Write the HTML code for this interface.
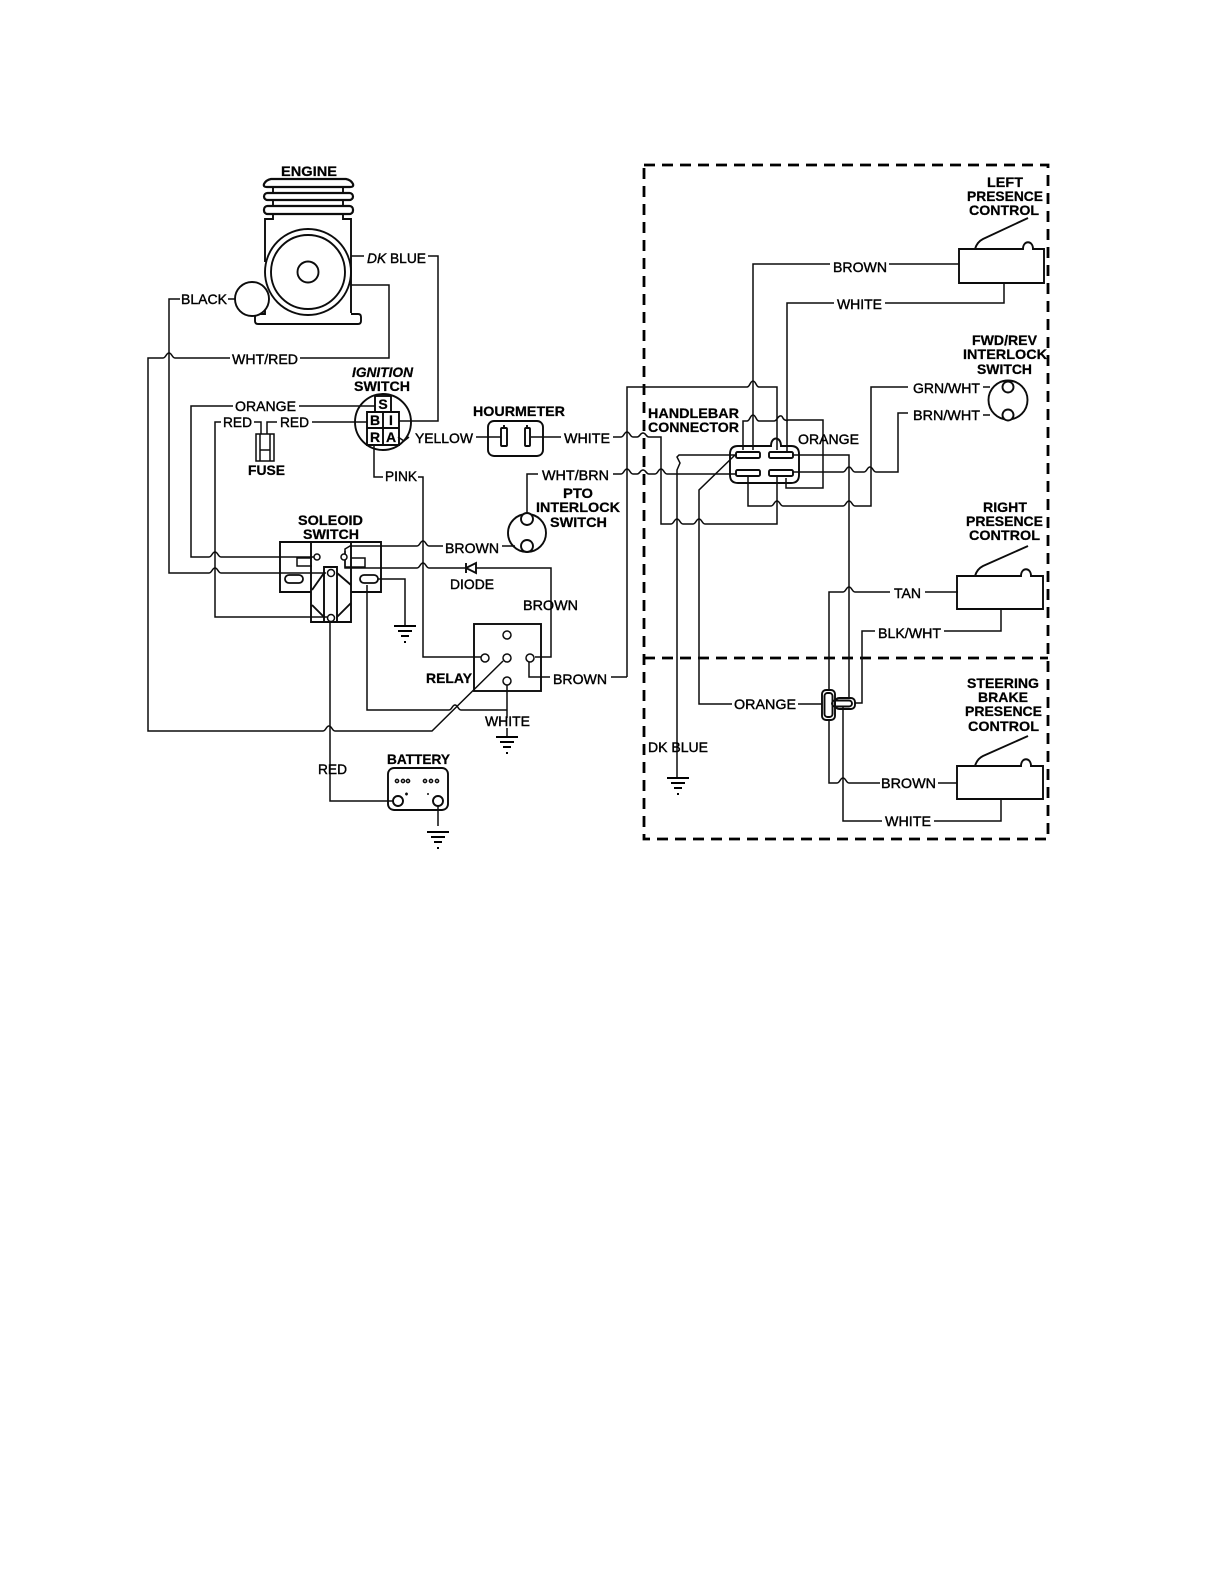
<!DOCTYPE html>
<html>
<head>
<meta charset="utf-8">
<style>
html,body{margin:0;padding:0;background:#fff;width:1224px;height:1584px;overflow:hidden}
svg{display:block}
.w,.s{fill:none;stroke:#0c0c0c;stroke-width:1.5;stroke-linejoin:miter}
.s{stroke-width:1.9}
.d{fill:none;stroke:#000;stroke-width:2.8;stroke-dasharray:11 7}
text{font-family:"Liberation Sans",sans-serif;font-size:14px;fill:#000;dominant-baseline:central}
.b{font-weight:bold;stroke:#000;stroke-width:.25}
.r{stroke:#000;stroke-width:.4}
</style>
</head>
<body>
<svg width="1224" height="1584" viewBox="0 0 1224 1584" xmlns="http://www.w3.org/2000/svg">
<rect width="1224" height="1584" fill="#fff"/>
<defs>
<path id="g" d="M-11 0h22M-7 5h14M-4 10h8M-1 16h2" fill="none" stroke="#000" stroke-width="2"/>
</defs>

<!-- dashed box -->
<path class="d" d="M644 165H1048V839H644ZM644 658H1048"/>

<!-- engine -->
<g class="s">
<path d="M267 187H350Q354 187 353 184Q351 180 346 179H271Q266 180 264 184Q263 187 267 187Z" stroke-width="2.2"/>
<rect x="264" y="193" width="89" height="7" rx="3.5" stroke-width="2.2"/>
<rect x="264" y="206" width="89" height="8" rx="3.5" stroke-width="2.2"/>
<path d="M273 187v6M343 187v6M273 200v6M343 200v6M273 214v5H265V262M343 214v5H351V313M265 310v4H258q-3 0-3 3v4q0 3 3 3H358q3 0 3-3v-4q0-3-3-3H351"/>
<circle cx="308" cy="272" r="43"/>
<circle cx="308" cy="272" r="37"/>
<circle cx="308" cy="272" r="10.5"/>
<circle cx="252" cy="299" r="17" fill="#fff"/>
</g>

<!-- wires left -->
<g class="w">
<path d="M351 256H364M428 256H438V421H399"/>
<path d="M351 285H389V358H300M230 358H175c-3 0-3-5-6-5s-3 5-6 5H148V731H323c3 0 3-5 6-5s3 5 6 5H432L503 661"/>
<path d="M228 299H235M180 299H169V573H209c3 0 3-5 6-5s3 5 6 5H326"/>
<path d="M233 406H191V557H209c3 0 3-5 6-5s3 5 6 5H314M299 406H375"/>
<path d="M221 422H215V617H327"/>
<path d="M254 422H261V434M267 434V422H277M312 422H367"/>
<path d="M374 445V477H383M418 477H423V657H481"/>
<path d="M398 437L404 441L409 437M476 437H501M531 437H561"/>
<path d="M613 437H621c3 0 3-5 6-5s3 5 6 5H637c3 0 3-4 6-4s3 4 6 4H661V524H671c3 0 3-5 6-5s3 5 6 5H693c3 0 3-5 6-5s3 5 6 5H777V476"/>
<path d="M538 474H527V513M613 474H621c3 0 3-5 6-5s3 5 6 5H637c3 0 3-4 6-4s3 4 6 4H655c3 0 3-5 6-5s3 5 6 5H736M793 472H843c3 0 3-5 6-5s3 5 6 5H864c3 0 3-5 6-5s3 5 6 5H898V413H908"/>
<path d="M502 546H515M443 546H429c-3 0-3-5-6-5s-3 5-6 5H350L345 549V568H417c3 0 3-5 6-5s3 5 6 5H466M476 568H551V657H535"/>
<path d="M627 677V387H747c3 0 3-6 6-6s3 6 6 6H777V450M550 677H529V662M611 677H627"/>
<path d="M507 685V710H461c-3 0-3-5-6-5s-3 5-6 5H367V585M507 710v8M507 728v9"/>
<path d="M378 579H405V625"/>
<path d="M330 622V801H393M438 806V826"/>
</g>

<!-- solenoid -->
<g class="s">
<path d="M280 542H381V592H351V622H311V592H280ZM311 542V592M351 542V592"/>
<path d="M324 622V567H337V622"/>
<path d="M312 590L324 573M337 573L351 585M312 605L324 617M337 617L351 603"/>
</g>
<g class="w">
<rect x="285" y="575" width="18" height="8" rx="4" stroke-width="1.8"/>
<rect x="360" y="575" width="18" height="8" rx="4" stroke-width="1.8"/>
<path d="M312 558H297V566H312M351 558H365V567H345V551"/>
<circle cx="317" cy="557" r="3" fill="#fff"/>
<circle cx="344" cy="557" r="3" fill="#fff"/>
<circle cx="331" cy="573" r="3.5" fill="#fff"/>
<circle cx="331" cy="618" r="3.5" fill="#fff"/>
</g>

<!-- ignition -->
<g class="s">
<circle cx="383" cy="422" r="28"/>
<rect x="375" y="396" width="16" height="16"/>
<path d="M367 412H399V445H367ZM367 428H399M383 412V445"/>
</g>
<text class="b" x="383" y="404" text-anchor="middle">S</text>
<text class="b" x="375" y="420" text-anchor="middle">B</text>
<text class="b" x="391" y="420" text-anchor="middle">I</text>
<text class="b" x="375" y="437" text-anchor="middle">R</text>
<text class="b" x="391" y="437" text-anchor="middle">A</text>

<!-- fuse -->
<g class="w">
<path d="M256 434H274V461H256ZM260 434V461M270 434V461M260 450H270"/>
</g>

<!-- hourmeter -->
<g class="s">
<rect x="488" y="421" width="55" height="35" rx="6"/>
<rect x="501" y="428" width="6" height="18" rx="1"/>
<rect x="525" y="428" width="5" height="18" rx="1"/>
<path d="M504 425v2M527 425v2"/>
</g>

<!-- PTO -->
<g class="s">
<circle cx="527" cy="533" r="19"/>
<circle cx="527" cy="519" r="6" fill="#fff"/>
<circle cx="527" cy="546" r="6" fill="#fff"/>
</g>

<!-- diode -->
<path class="s" d="M466 563V573M466 568L476 563V573Z"/>

<!-- relay -->
<rect class="s" x="474" y="624" width="67" height="67"/>
<g class="w">
<circle cx="507" cy="635" r="4"/>
<circle cx="485" cy="658" r="4"/>
<circle cx="507" cy="658" r="4"/>
<circle cx="530" cy="658" r="4"/>
<circle cx="507" cy="681" r="4"/>
</g>
<use href="#g" x="405" y="626"/>
<use href="#g" x="507" y="737"/>

<!-- battery -->
<g class="s">
<rect x="388" y="768" width="60" height="42" rx="6"/>
<circle cx="398" cy="801" r="5" fill="#fff"/>
<circle cx="438" cy="801" r="5" fill="#fff"/>
</g>
<g class="w" stroke-width="1">
<circle cx="397" cy="781" r="1.6"/><circle cx="403" cy="781" r="1.6"/><circle cx="408" cy="781" r="1.6"/>
<circle cx="425" cy="781" r="1.6"/><circle cx="431" cy="781" r="1.6"/><circle cx="437" cy="781" r="1.6"/>
<path d="M405 794h3M406.500 792.500v3M427 794h2"/>
</g>
<use href="#g" x="438" y="832"/>

<!-- connector -->
<g class="s">
<path d="M738 446H771C771 436 781 436 781 446H791Q799 446 799 454V475Q799 483 791 483H738Q730 483 730 475V454Q730 446 738 446Z"/>
<rect x="736" y="452" width="24" height="6" rx="1.500"/>
<rect x="769" y="452" width="24" height="6" rx="1.500"/>
<rect x="736" y="470" width="24" height="6" rx="1.500"/>
<rect x="769" y="470" width="24" height="6" rx="1.500"/>
</g>

<!-- wires right -->
<g class="w">
<path d="M959 264H889M830 264H753V450"/>
<path d="M1004 283V303H885M834 303H787V453"/>
<path d="M743 450V421H747c3 0 3-6 6-6s3 6 6 6H774c3 0 3-4 6-5s2 3 5 4 3 0 3 0H823V488H786V478"/>
<path d="M908 387H871V506H855c-3 0-3-5-6-5s-3 5-6 5H783c-3 0-3-5-6-5s-3 5-6 5H748V477"/>
<path d="M983 387H990M983 415H990"/>
<path d="M737 455H679L677 457L680 463L677 470V777"/>
<path d="M793 455H849V697"/>
<path d="M735 455L699 490V704H732M798 704H823"/>
<path d="M958 592H925M890 592H855c-3 0-3-5-6-5s-3 5-6 5H829V783H837c3 0 3-5 6-5s3 5 6 5H880M938 783H957"/>
<path d="M1001 609V631H944M875 631H862V703H855"/>
<path d="M843 707V821H882M934 821H1001V799"/>
</g>
<use href="#g" x="678" y="778"/>

<!-- T connector -->
<g class="s">
<rect x="822" y="690" width="13" height="30" rx="4" fill="#fff"/>
<rect x="824.500" y="693" width="8" height="24" rx="3"/>
<rect x="835" y="698" width="20" height="11" rx="4"/>
<rect x="832" y="700.500" width="20" height="6" rx="3"/>
</g>

<!-- FWD/REV -->
<g class="s">
<circle cx="1008" cy="400" r="19.500"/>
<circle cx="1008" cy="387" r="5.500" fill="#fff"/>
<circle cx="1008" cy="415" r="5.500" fill="#fff"/>
</g>

<!-- presence switches -->
<g class="s">
<path d="M959 249H1023C1023 240 1033 240 1033 249H1044V283H959Z"/>
<path d="M975 249Q977 242 983 239L1028 218"/>
<path d="M957 576H1021C1021 567 1031 567 1031 576H1043V609H957Z"/>
<path d="M975 576Q977 569 983 566L1028 546"/>
<path d="M957 766H1021C1021 757 1031 757 1031 766H1043V799H957Z"/>
<path d="M975 766Q977 759 983 756L1028 736"/>
</g>

<!-- bold labels -->
<g>
<text class="b" x="281" y="171" textLength="56" lengthAdjust="spacingAndGlyphs">ENGINE</text>
<text class="b" x="352" y="372" textLength="61" lengthAdjust="spacingAndGlyphs" font-style="italic">IGNITION</text>
<text class="b" x="354" y="386" textLength="56" lengthAdjust="spacingAndGlyphs">SWITCH</text>
<text class="b" x="248" y="470" textLength="37" lengthAdjust="spacingAndGlyphs">FUSE</text>
<text class="b" x="473" y="411" textLength="92" lengthAdjust="spacingAndGlyphs">HOURMETER</text>
<text class="b" x="563" y="493" textLength="30" lengthAdjust="spacingAndGlyphs">PTO</text>
<text class="b" x="536" y="507" textLength="84" lengthAdjust="spacingAndGlyphs">INTERLOCK</text>
<text class="b" x="550" y="522" textLength="57" lengthAdjust="spacingAndGlyphs">SWITCH</text>
<text class="b" x="298" y="520" textLength="65" lengthAdjust="spacingAndGlyphs">SOLEOID</text>
<text class="b" x="303" y="534" textLength="56" lengthAdjust="spacingAndGlyphs">SWITCH</text>
<text class="b" x="426" y="678" textLength="46" lengthAdjust="spacingAndGlyphs">RELAY</text>
<text class="b" x="387" y="759" textLength="63" lengthAdjust="spacingAndGlyphs">BATTERY</text>
<text class="b" x="648" y="413" textLength="91" lengthAdjust="spacingAndGlyphs">HANDLEBAR</text>
<text class="b" x="648" y="427" textLength="91" lengthAdjust="spacingAndGlyphs">CONNECTOR</text>
<text class="b" x="987" y="182" textLength="36" lengthAdjust="spacingAndGlyphs">LEFT</text>
<text class="b" x="967" y="196" textLength="76" lengthAdjust="spacingAndGlyphs">PRESENCE</text>
<text class="b" x="969" y="210" textLength="70" lengthAdjust="spacingAndGlyphs">CONTROL</text>
<text class="b" x="972" y="340" textLength="65" lengthAdjust="spacingAndGlyphs">FWD/REV</text>
<text class="b" x="963" y="354" textLength="84" lengthAdjust="spacingAndGlyphs">INTERLOCK</text>
<text class="b" x="977" y="369" textLength="55" lengthAdjust="spacingAndGlyphs">SWITCH</text>
<text class="b" x="983" y="507" textLength="44" lengthAdjust="spacingAndGlyphs">RIGHT</text>
<text class="b" x="966" y="521" textLength="77" lengthAdjust="spacingAndGlyphs">PRESENCE</text>
<text class="b" x="969" y="535" textLength="71" lengthAdjust="spacingAndGlyphs">CONTROL</text>
<text class="b" x="967" y="683" textLength="72" lengthAdjust="spacingAndGlyphs">STEERING</text>
<text class="b" x="978" y="697" textLength="50" lengthAdjust="spacingAndGlyphs">BRAKE</text>
<text class="b" x="965" y="711" textLength="77" lengthAdjust="spacingAndGlyphs">PRESENCE</text>
<text class="b" x="968" y="726" textLength="71" lengthAdjust="spacingAndGlyphs">CONTROL</text>
</g>

<!-- wire labels -->
<g class="r">
<text x="181" y="299" textLength="46" lengthAdjust="spacingAndGlyphs">BLACK</text>
<text x="367" y="258" textLength="59" lengthAdjust="spacingAndGlyphs"><tspan font-style="italic">DK</tspan> BLUE</text>
<text x="232" y="359" textLength="66" lengthAdjust="spacingAndGlyphs">WHT/RED</text>
<text x="235" y="406" textLength="61" lengthAdjust="spacingAndGlyphs">ORANGE</text>
<text x="223" y="422" textLength="29" lengthAdjust="spacingAndGlyphs">RED</text>
<text x="280" y="422" textLength="29" lengthAdjust="spacingAndGlyphs">RED</text>
<text x="385" y="476" textLength="32" lengthAdjust="spacingAndGlyphs">PINK</text>
<text x="415" y="438" textLength="58" lengthAdjust="spacingAndGlyphs">YELLOW</text>
<text x="564" y="438" textLength="46" lengthAdjust="spacingAndGlyphs">WHITE</text>
<text x="542" y="475" textLength="67" lengthAdjust="spacingAndGlyphs">WHT/BRN</text>
<text x="445" y="548" textLength="54" lengthAdjust="spacingAndGlyphs">BROWN</text>
<text x="450" y="584" textLength="44" lengthAdjust="spacingAndGlyphs">DIODE</text>
<text x="523" y="605" textLength="55" lengthAdjust="spacingAndGlyphs">BROWN</text>
<text x="553" y="679" textLength="54" lengthAdjust="spacingAndGlyphs">BROWN</text>
<text x="485" y="721" textLength="45" lengthAdjust="spacingAndGlyphs">WHITE</text>
<text x="318" y="769" textLength="29" lengthAdjust="spacingAndGlyphs">RED</text>
<text x="833" y="267" textLength="54" lengthAdjust="spacingAndGlyphs">BROWN</text>
<text x="837" y="304" textLength="45" lengthAdjust="spacingAndGlyphs">WHITE</text>
<text x="913" y="388" textLength="67" lengthAdjust="spacingAndGlyphs">GRN/WHT</text>
<text x="913" y="415" textLength="67" lengthAdjust="spacingAndGlyphs">BRN/WHT</text>
<text x="798" y="439" textLength="61" lengthAdjust="spacingAndGlyphs">ORANGE</text>
<text x="894" y="593" textLength="27" lengthAdjust="spacingAndGlyphs">TAN</text>
<text x="878" y="633" textLength="63" lengthAdjust="spacingAndGlyphs">BLK/WHT</text>
<text x="734" y="704" textLength="62" lengthAdjust="spacingAndGlyphs">ORANGE</text>
<text x="648" y="747" textLength="60" lengthAdjust="spacingAndGlyphs">DK BLUE</text>
<text x="881" y="783" textLength="55" lengthAdjust="spacingAndGlyphs">BROWN</text>
<text x="885" y="821" textLength="46" lengthAdjust="spacingAndGlyphs">WHITE</text>
</g>
</svg>
</body>
</html>
